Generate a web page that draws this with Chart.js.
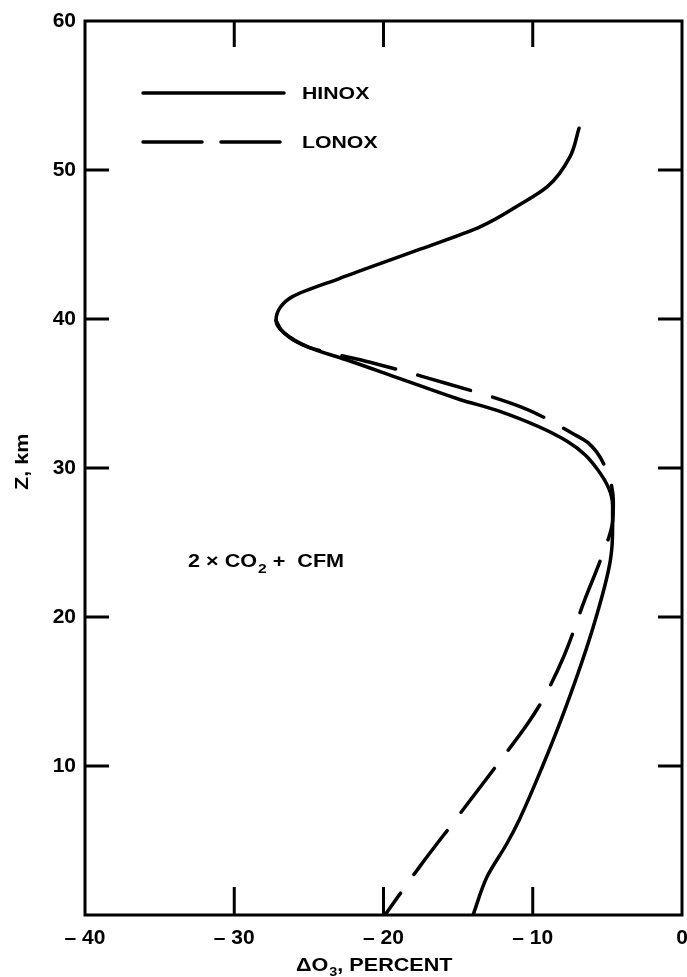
<!DOCTYPE html>
<html>
<head>
<meta charset="utf-8">
<script src="https://cdn.jsdelivr.net/npm/chart.js@4"></script>
<style>
  html, body { margin: 0; padding: 0; background: #fff; overflow: hidden; }
  #wrap { width: 687px; height: 977px; position: relative; }
  canvas { display: block; }
</style>
</head>
<body>
<div id="wrap"><canvas id="ozone-chart"></canvas></div>
<script>
// HINOX profile, read top to bottom (delta O3 percent, altitude km)
const hinoxX = [-6.9, -7.5, -9.0, -11.0, -13.5, -17.5, -23.0, -26.1, -26.9, -27.2, -26.7, -25.0, -22.3, -18.9, -14.9, -12.2, -7.7, -5.66, -4.65, -4.65, -4.8, -5.96, -7.84, -9.38, -10.9, -11.73, -13.07, -14.0];
const hinoxZ = [52.8, 50.9, 48.9, 47.6, 46.2, 44.7, 42.7, 41.5, 40.8, 39.9, 39.1, 38.1, 37.2, 36.0, 34.6, 33.8, 31.8, 29.9, 27.5, 25.9, 23.8, 19.3, 13.8, 9.9, 6.4, 4.8, 2.55, 0];

// LONOX profile, joins HINOX near the minimum at ~39 km
const lonoxX = [-27.2, -26.7, -25.0, -20.9, -16.9, -10.8, -7.3, -6.3, -5.0, -4.6, -4.65, -5.4, -6.5, -7.9, -9.3, -10.3, -12.45, -15.1, -17.5, -19.9];
const lonoxZ = [39.9, 39.1, 38.1, 37.1, 36.0, 34.1, 32.3, 31.7, 29.7, 27.7, 26.4, 24.0, 21.2, 17.4, 14.5, 12.9, 10.0, 6.5, 3.35, 0];

const xTicks = [-40, -30, -20, -10, 0];
const yTicks = [0, 10, 20, 30, 40, 50, 60];

const FONT = '"Liberation Sans", Arial, Helvetica, sans-serif';

function toPoints(xs, zs) {
    return xs.map(function (x, i) { return { x: x, y: zs[i] }; });
}

// draw text a bit wider than the font, like the original lettering
function wideText(ctx, text, x, y, size, sx) {
    ctx.save();
    ctx.font = 'bold ' + size + 'px ' + FONT;
    ctx.translate(x, y);
    ctx.scale(sx, 1);
    ctx.fillText(text, 0, 0);
    const w = ctx.measureText(text).width * sx;
    ctx.restore();
    return w;
}

const decorPlugin = {
    id: 'decor',
    afterDraw: function (chart) {
        const ctx = chart.ctx;
        const a = chart.chartArea;
        const xs = chart.scales.x, ys = chart.scales.y;
        ctx.save();
        ctx.strokeStyle = '#000';
        ctx.fillStyle = '#000';
        ctx.lineWidth = 3;
        ctx.lineCap = 'butt';
        ctx.strokeRect(a.left, a.top, a.right - a.left, a.bottom - a.top);

        // inward ticks on all four sides
        ctx.beginPath();
        xTicks.slice(1, -1).forEach(function (v) {
            const px = xs.getPixelForValue(v);
            ctx.moveTo(px, a.bottom); ctx.lineTo(px, a.bottom - 28);
            ctx.moveTo(px, a.top); ctx.lineTo(px, a.top + 26);
        });
        yTicks.slice(1, -1).forEach(function (v) {
            const py = ys.getPixelForValue(v);
            ctx.moveTo(a.left, py); ctx.lineTo(a.left + 24, py);
            ctx.moveTo(a.right, py); ctx.lineTo(a.right - 24, py);
        });
        ctx.stroke();

        // legend
        ctx.lineWidth = 3.5;
        ctx.lineCap = 'round';
        ctx.beginPath();
        ctx.moveTo(143, 93); ctx.lineTo(284, 93);
        ctx.stroke();
        ctx.setLineDash([59, 19]);
        ctx.beginPath();
        ctx.moveTo(143, 142); ctx.lineTo(284, 142);
        ctx.stroke();
        ctx.setLineDash([]);
        wideText(ctx, 'HINOX', 302, 99, 17, 1.25);
        wideText(ctx, 'LONOX', 302, 148, 17, 1.25);

        // annotation 2 x CO2 + CFM
        let x = 188;
        x += wideText(ctx, '2 \u00d7 CO', x, 567, 18, 1.2);
        x += wideText(ctx, '2', x + 1, 573, 13, 1.2) + 1;
        wideText(ctx, ' +  CFM', x, 567, 18, 1.2);

        // axis titles
        x = 296;
        x += wideText(ctx, '\u0394O', x, 971, 18, 1.2);
        x += wideText(ctx, '3', x + 1, 976, 12, 1.2) + 1;
        wideText(ctx, ', PERCENT', x, 971, 18, 1.2);

        ctx.save();
        ctx.translate(28, 490);
        ctx.rotate(-Math.PI / 2);
        wideText(ctx, 'Z, km', 0, 0, 18, 1.2);
        ctx.restore();

        ctx.restore();
    }
};

new Chart(document.getElementById('ozone-chart'), {
    type: 'scatter',
    data: {
        datasets: [{
            label: 'HINOX',
            data: toPoints(hinoxX, hinoxZ),
            showLine: true,
            borderColor: '#000',
            borderWidth: 3.5,
            pointRadius: 0,
            cubicInterpolationMode: 'monotone',
            borderCapStyle: 'round',
            fill: false
        }, {
            label: 'LONOX',
            data: toPoints(lonoxX, lonoxZ),
            showLine: true,
            borderColor: '#000',
            borderWidth: 3.5,
            borderDash: [55, 23],
            pointRadius: 0,
            cubicInterpolationMode: 'monotone',
            borderCapStyle: 'round',
            fill: false
        }]
    },
    options: {
        indexAxis: 'y',
        responsive: true,
        maintainAspectRatio: false,
        animation: false,
        events: [],
        layout: { padding: { top: 21, right: 5, left: 0, bottom: 0 } },
        plugins: {
            legend: { display: false },
            tooltip: { enabled: false }
        },
        scales: {
            x: {
                type: 'linear',
                position: 'bottom',
                min: -40,
                max: 0,
                afterBuildTicks: function (s) { s.ticks = xTicks.map(function (v) { return { value: v }; }); },
                afterFit: function (s) { s.height = 62; s.paddingLeft = 0; s.paddingRight = 0; },
                grid: { display: false, drawTicks: false },
                border: { display: false },
                ticks: {
                    color: '#000',
                    padding: 11,
                    maxRotation: 0,
                    autoSkip: false,
                    font: { family: FONT, size: 21, weight: 'bold' },
                    callback: function (v) { return v === 0 ? '0' : '\u2013 ' + Math.abs(v); }
                }
            },
            y: {
                type: 'linear',
                position: 'left',
                min: 0,
                max: 60,
                afterBuildTicks: function (s) { s.ticks = yTicks.map(function (v) { return { value: v }; }); },
                afterFit: function (s) { s.width = 85; s.paddingTop = 0; s.paddingBottom = 0; },
                grid: { display: false, drawTicks: false },
                border: { display: false },
                ticks: {
                    color: '#000',
                    padding: 9,
                    autoSkip: false,
                    font: { family: FONT, size: 21, weight: 'bold' },
                    callback: function (v) { return v === 0 ? '' : String(v); }
                }
            }
        }
    },
    plugins: [decorPlugin]
});
</script>
</body>
</html>
